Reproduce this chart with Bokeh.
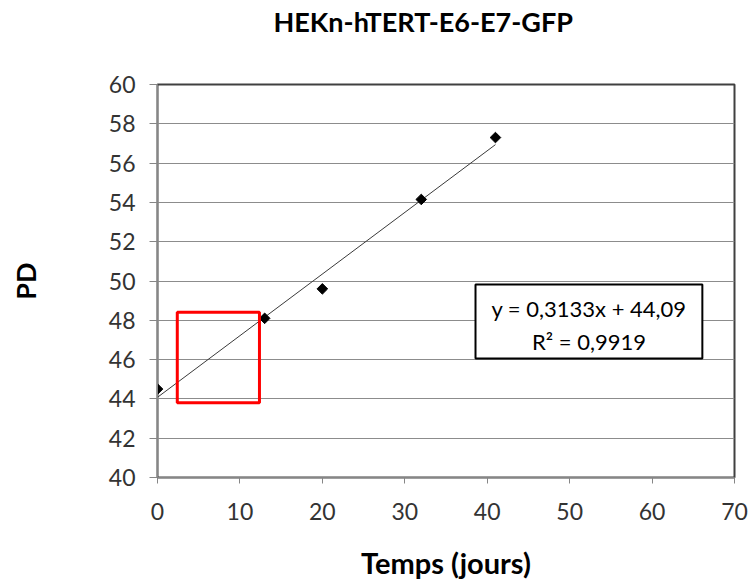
import numpy as np
from bokeh.plotting import figure
from bokeh.models import FixedTicker, BoxAnnotation, Range1d, ColumnDataSource, Label
from bokeh.embed import file_html
from bokeh.resources import INLINE

# ---- data ----
days = [0, 13, 20, 32, 41]
pd_values = [44.5, 48.1, 49.6, 54.15, 57.3]
x_ticks = [0, 10, 20, 30, 40, 50, 60, 70]
y_ticks = [40, 42, 44, 46, 48, 50, 52, 54, 56, 58, 60]
title_text = "HEKn-hTERT-E6-E7-GFP"
x_label = "Temps (jours)"
y_label = "PD"
eq_lines = ["y = 0,3133x + 44,09", "R² = 0,9919"]

FONT = "Lato"

p = figure(width=751, height=582, output_backend="svg", toolbar_location=None,
           x_range=Range1d(0, 70), y_range=Range1d(40, 60),
           min_border_left=157, min_border_right=17, min_border_top=84, min_border_bottom=105)

p.background_fill_color = "white"
p.border_fill_color = "white"
p.outline_line_color = "#404040"
p.outline_line_width = 2

# title (a trailing blank line lifts it towards the top of the canvas)
p.title.text = title_text + "\n "
p.title.text_font = FONT
p.title.text_font_size = "27px"
p.title.text_font_style = "bold"
p.title.text_color = "black"
p.title.align = "left"
p.title.offset = 116
p.title.vertical_align = "top"
p.title.text_line_height = 1.35
p.title.standoff = 0

# grids
p.xgrid.visible = False
p.ygrid.ticker = FixedTicker(ticks=y_ticks)
p.ygrid.grid_line_color = "#8c8c8c"
p.ygrid.grid_line_width = 1

# axes
for ax, ticks in ((p.xaxis[0], x_ticks), (p.yaxis[0], y_ticks)):
    ax.ticker = FixedTicker(ticks=ticks)
    ax.axis_line_color = "#868686"
    ax.axis_line_width = 1
    ax.major_tick_line_color = "#868686"
    ax.major_tick_in = 0
    ax.minor_tick_line_color = None
    ax.major_label_text_font = FONT
    ax.major_label_text_font_size = "23px"
    ax.major_label_text_color = "#333333"
    ax.axis_label_text_font = FONT
    ax.axis_label_text_font_style = "bold"
    ax.axis_label_text_color = "black"

p.xaxis.major_tick_out = 6
p.xaxis.major_label_standoff = 19
p.xaxis.axis_label = x_label
p.xaxis.axis_label_text_font_size = "29px"
p.xaxis.axis_label_standoff = 22
p.yaxis.major_tick_out = 8
p.yaxis.major_label_standoff = 14
p.yaxis.axis_label = y_label
p.yaxis.axis_label_text_font_size = "27px"
p.yaxis.axis_label_standoff = 64

# trendline (least squares fit of the data)
slope, intercept = np.polyfit(days, pd_values, 1)
tx = [min(days), max(days)]
ty = [slope * v + intercept for v in tx]
p.line(tx, ty, line_color="#3a3a3a", line_width=1)

# data points
src = ColumnDataSource(dict(x=days, y=pd_values))
p.scatter("x", "y", source=src, marker="square", angle=np.pi / 4, size=7.5,
          fill_color="black", line_color="black")

# red highlight box
p.add_layout(BoxAnnotation(left=2.4, right=12.37, bottom=43.8, top=48.41,
                           fill_alpha=0, line_color="#ff0000", line_alpha=1, line_width=3))

# equation box
p.add_layout(BoxAnnotation(left=38.58, right=66.1, bottom=46.06, top=49.82,
                           fill_color="white", fill_alpha=1, line_color="black",
                           line_alpha=1, line_width=2))
for txt, yy in zip(eq_lines, [48.6, 46.92]):
    p.add_layout(Label(x=52.35, y=yy, text=txt, text_font=FONT, text_font_size="22px",
                       text_align="center", text_baseline="middle", text_color="black"))

open("out.html", "w").write(file_html(p, INLINE))
